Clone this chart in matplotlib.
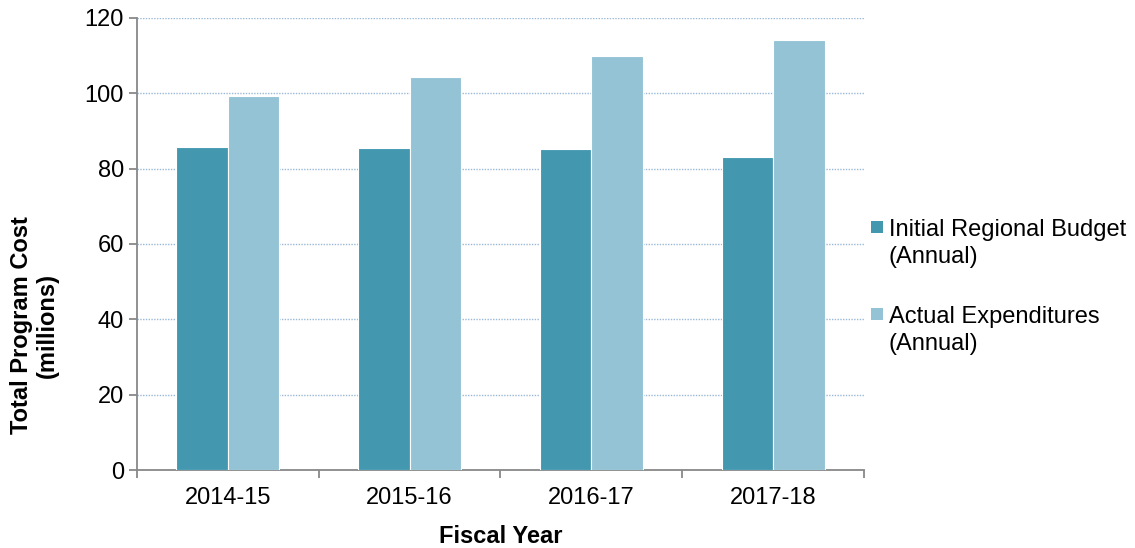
import matplotlib.pyplot as plt
import matplotlib.patches as mpatches
from matplotlib.container import BarContainer
from matplotlib.legend_handler import HandlerPatch
import numpy as np

plt.rcParams["font.family"] = ["Liberation Sans", "DejaVu Sans"]

# данные
fiscal_years = ["2014-15", "2015-16", "2016-17", "2017-18"]
initial_budget = [85.7, 85.5, 85.2, 83.1]
actual_expenditures = [99.3, 104.3, 109.9, 114.1]

DARK = "#4398b0"
LIGHT = "#93c3d5"

fig = plt.figure(figsize=(11.35, 5.48), dpi=100)
ax = fig.add_axes([0.1207, 0.1423, 0.6405, 0.8249])

x = np.arange(len(fiscal_years))
w = 0.283
ax.bar(x - w / 2, initial_budget, w, color=DARK, edgecolor="white", linewidth=0.8,
       label="Initial Regional Budget\n(Annual)", zorder=3)
ax.bar(x + w / 2, actual_expenditures, w, color=LIGHT, edgecolor="white", linewidth=0.8,
       label="Actual Expenditures\n(Annual)", zorder=3)

ax.set_xlim(-0.5, len(fiscal_years) - 0.5)
ax.set_ylim(0, 120)
ax.set_yticks(range(0, 121, 20))
ax.set_xticks(x)
ax.set_xticklabels(fiscal_years)
ax.set_xticks(np.arange(-0.5, len(fiscal_years)), minor=True)
ax.tick_params(axis="x", which="major", length=0, labelsize=17, pad=12)
ax.tick_params(axis="x", which="minor", length=6, color="#888888", width=1.3)
ax.tick_params(axis="y", length=6, color="#888888", width=1.3, labelsize=17)

ax.grid(axis="y", color="#9ab8d8", linestyle=(0, (1, 1)), linewidth=1.0, zorder=0)
for s in ["top", "right"]:
    ax.spines[s].set_visible(False)
for s in ["left", "bottom"]:
    ax.spines[s].set_color("#888888")
    ax.spines[s].set_linewidth(1.3)

ax.set_xlabel("Fiscal Year", fontsize=17, fontweight="bold", labelpad=12)
ax.set_ylabel("Total Program Cost\n(millions)", fontsize=17, fontweight="bold")
ax.yaxis.set_label_coords(-0.107, 0.32)


# маркер легенды на уровне первой строки подписи
def top_square(legend, orig_handle, xdescent, ydescent, width, height, fontsize):
    side = 0.5 * fontsize
    return mpatches.Rectangle((-xdescent, -ydescent + 0.75 * fontsize), side, side)


def update_from_bars(legend_handle, orig_handle):
    legend_handle.update_from(orig_handle[0])
    legend_handle.set_edgecolor("none")


leg = ax.legend(loc="center left", bbox_to_anchor=(1.0, 0.405), frameon=False, fontsize=17,
                handlelength=0.5, handleheight=0.5, handletextpad=0.25, labelspacing=1.6,
                borderaxespad=-0.1,
                handler_map={BarContainer: HandlerPatch(patch_func=top_square,
                                                        update_func=update_from_bars)})
for t in leg.get_texts():
    t.set_linespacing(1.3)

fig.savefig("out.png", dpi=100)
